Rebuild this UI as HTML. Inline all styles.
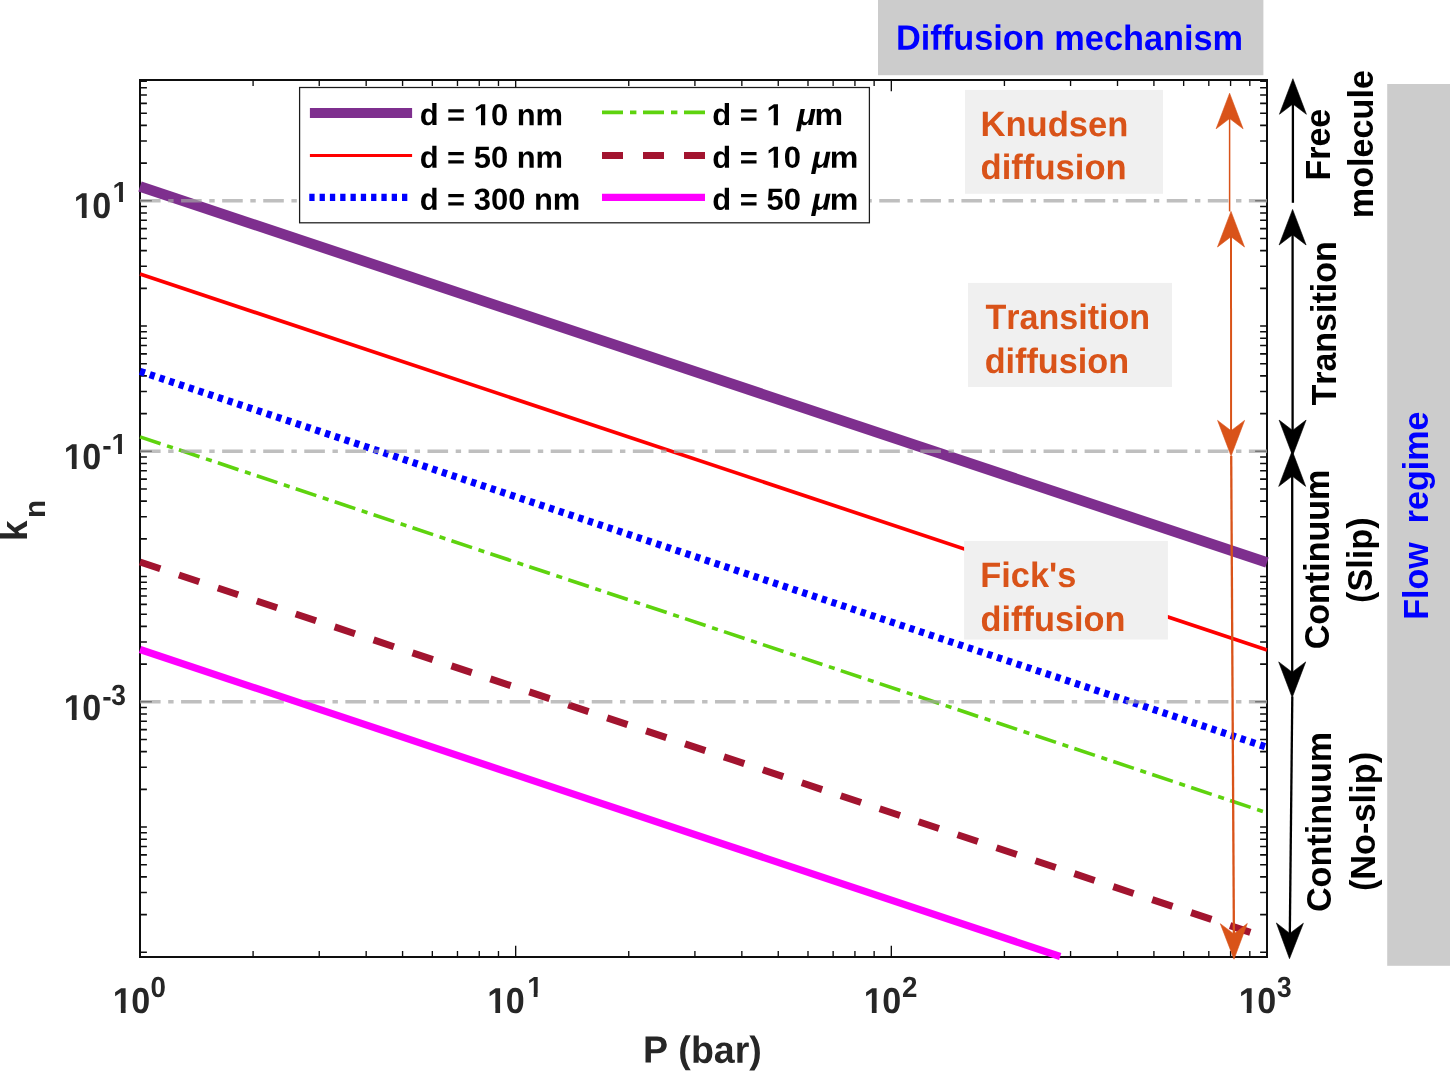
<!DOCTYPE html>
<html><head><meta charset="utf-8"><title>Kn vs P</title>
<style>html,body{margin:0;padding:0;background:#fff;}body{width:1450px;height:1071px;overflow:hidden;}svg{display:block;will-change:transform;}text{font-family:"Liberation Sans",sans-serif;font-weight:bold;font-kerning:none;}</style>
</head><body>
<svg width="1450" height="1071" viewBox="0 0 1450 1071">
<rect x="0" y="0" width="1450" height="1071" fill="#ffffff"/>
<rect x="878" y="0" width="385.4" height="75.2" fill="#cccccc"/>
<rect x="1387.2" y="84" width="63" height="881.8" fill="#cccccc"/>
<clipPath id="ax"><rect x="139" y="80" width="1128.5" height="877"/></clipPath>
<path d="M140.0 952.30h6.9M1267.0 952.30h-6.9M140.0 914.60h6.9M1267.0 914.60h-6.9M140.0 892.54h6.9M1267.0 892.54h-6.9M140.0 876.89h6.9M1267.0 876.89h-6.9M140.0 864.75h6.9M1267.0 864.75h-6.9M140.0 854.84h6.9M1267.0 854.84h-6.9M140.0 846.45h6.9M1267.0 846.45h-6.9M140.0 839.19h6.9M1267.0 839.19h-6.9M140.0 832.78h6.9M1267.0 832.78h-6.9M140.0 827.05h6.9M1267.0 827.05h-6.9M140.0 789.35h6.9M1267.0 789.35h-6.9M140.0 767.29h6.9M1267.0 767.29h-6.9M140.0 751.64h6.9M1267.0 751.64h-6.9M140.0 739.50h6.9M1267.0 739.50h-6.9M140.0 729.59h6.9M1267.0 729.59h-6.9M140.0 721.20h6.9M1267.0 721.20h-6.9M140.0 713.94h6.9M1267.0 713.94h-6.9M140.0 707.53h6.9M1267.0 707.53h-6.9M140.0 701.80h11.9M1267.0 701.80h-11.9M140.0 664.10h6.9M1267.0 664.10h-6.9M140.0 642.04h6.9M1267.0 642.04h-6.9M140.0 626.39h6.9M1267.0 626.39h-6.9M140.0 614.25h6.9M1267.0 614.25h-6.9M140.0 604.34h6.9M1267.0 604.34h-6.9M140.0 595.95h6.9M1267.0 595.95h-6.9M140.0 588.69h6.9M1267.0 588.69h-6.9M140.0 582.28h6.9M1267.0 582.28h-6.9M140.0 576.55h6.9M1267.0 576.55h-6.9M140.0 538.85h6.9M1267.0 538.85h-6.9M140.0 516.79h6.9M1267.0 516.79h-6.9M140.0 501.14h6.9M1267.0 501.14h-6.9M140.0 489.00h6.9M1267.0 489.00h-6.9M140.0 479.09h6.9M1267.0 479.09h-6.9M140.0 470.70h6.9M1267.0 470.70h-6.9M140.0 463.44h6.9M1267.0 463.44h-6.9M140.0 457.03h6.9M1267.0 457.03h-6.9M140.0 451.30h11.9M1267.0 451.30h-11.9M140.0 413.60h6.9M1267.0 413.60h-6.9M140.0 391.54h6.9M1267.0 391.54h-6.9M140.0 375.89h6.9M1267.0 375.89h-6.9M140.0 363.75h6.9M1267.0 363.75h-6.9M140.0 353.84h6.9M1267.0 353.84h-6.9M140.0 345.45h6.9M1267.0 345.45h-6.9M140.0 338.19h6.9M1267.0 338.19h-6.9M140.0 331.78h6.9M1267.0 331.78h-6.9M140.0 326.05h6.9M1267.0 326.05h-6.9M140.0 288.35h6.9M1267.0 288.35h-6.9M140.0 266.29h6.9M1267.0 266.29h-6.9M140.0 250.64h6.9M1267.0 250.64h-6.9M140.0 238.50h6.9M1267.0 238.50h-6.9M140.0 228.59h6.9M1267.0 228.59h-6.9M140.0 220.20h6.9M1267.0 220.20h-6.9M140.0 212.94h6.9M1267.0 212.94h-6.9M140.0 206.53h6.9M1267.0 206.53h-6.9M140.0 200.80h11.9M1267.0 200.80h-11.9M140.0 163.10h6.9M1267.0 163.10h-6.9M140.0 141.04h6.9M1267.0 141.04h-6.9M140.0 125.39h6.9M1267.0 125.39h-6.9M140.0 113.25h6.9M1267.0 113.25h-6.9M140.0 103.34h6.9M1267.0 103.34h-6.9M140.0 94.95h6.9M1267.0 94.95h-6.9M140.0 87.69h6.9M1267.0 87.69h-6.9M140.0 81.28h6.9M1267.0 81.28h-6.9" stroke="#0e0e0e" stroke-width="1.6" fill="none"/>
<path d="M140.00 957.0v-11.2M140.00 80.0v11.2M253.09 957.0v-6.1M253.09 80.0v6.1M319.24 957.0v-6.1M319.24 80.0v6.1M366.17 957.0v-6.1M366.17 80.0v6.1M402.58 957.0v-6.1M402.58 80.0v6.1M432.33 957.0v-6.1M432.33 80.0v6.1M457.48 957.0v-6.1M457.48 80.0v6.1M479.26 957.0v-6.1M479.26 80.0v6.1M498.48 957.0v-6.1M498.48 80.0v6.1M515.67 957.0v-11.2M515.67 80.0v11.2M628.75 957.0v-6.1M628.75 80.0v6.1M694.91 957.0v-6.1M694.91 80.0v6.1M741.84 957.0v-6.1M741.84 80.0v6.1M778.25 957.0v-6.1M778.25 80.0v6.1M807.99 957.0v-6.1M807.99 80.0v6.1M833.14 957.0v-6.1M833.14 80.0v6.1M854.93 957.0v-6.1M854.93 80.0v6.1M874.14 957.0v-6.1M874.14 80.0v6.1M891.33 957.0v-11.2M891.33 80.0v11.2M1004.42 957.0v-6.1M1004.42 80.0v6.1M1070.57 957.0v-6.1M1070.57 80.0v6.1M1117.51 957.0v-6.1M1117.51 80.0v6.1M1153.91 957.0v-6.1M1153.91 80.0v6.1M1183.66 957.0v-6.1M1183.66 80.0v6.1M1208.81 957.0v-6.1M1208.81 80.0v6.1M1230.59 957.0v-6.1M1230.59 80.0v6.1M1249.81 957.0v-6.1M1249.81 80.0v6.1M1267.00 957.0v-11.2M1267.00 80.0v11.2" stroke="#0e0e0e" stroke-width="1.35" fill="none"/>
<rect x="140.0" y="80.0" width="1127.00" height="877.00" fill="none" stroke="#0e0e0e" stroke-width="2"/>
<g fill="none">
<line x1="140.0" y1="186.50" x2="1267.0" y2="562.45" stroke="#7e2f8e" stroke-width="10.5"/>
<line x1="140.0" y1="273.99" x2="1267.0" y2="649.94" stroke="#ff0000" stroke-width="3.7"/>
<line x1="140.0" y1="371.39" x2="1267.0" y2="747.34" stroke="#0000ff" stroke-width="7.2" stroke-dasharray="5.2 5.067"/>
<line x1="140.0" y1="436.84" x2="1267.0" y2="812.79" stroke="#5ed30e" stroke-width="3.6" stroke-dasharray="21.7 6.8 6.1 6.44"/>
<line x1="140.0" y1="562.01" x2="1267.0" y2="937.96" stroke="#a2142f" stroke-width="7" stroke-dasharray="21.4 19.64"/>
</g>
<g clip-path="url(#ax)" fill="none">
<line x1="140.0" y1="200.80" x2="1267.0" y2="200.80" stroke="#a4a4a4" stroke-opacity="0.7" stroke-width="3.4" stroke-dasharray="20.6 7.6 5.4 7.47"/>
<line x1="140.0" y1="451.30" x2="1267.0" y2="451.30" stroke="#a4a4a4" stroke-opacity="0.7" stroke-width="3.4" stroke-dasharray="20.6 7.6 5.4 7.47"/>
<line x1="140.0" y1="701.80" x2="1267.0" y2="701.80" stroke="#a4a4a4" stroke-opacity="0.7" stroke-width="3.4" stroke-dasharray="20.6 7.6 5.4 7.47"/>
</g>
<clipPath id="axm"><rect x="139" y="80" width="1128.5" height="885"/></clipPath>
<line x1="140.0" y1="649.50" x2="1060.2" y2="956.46" stroke="#ff00ff" stroke-width="7.2"/>
<rect x="965" y="89.9" width="198" height="103.9" fill="#f0f0f0"/>
<rect x="968" y="282.9" width="204" height="104.1" fill="#f0f0f0"/>
<rect x="964.1" y="540.9" width="203.8" height="98.6" fill="#f0f0f0"/>
<clipPath id="c1"><rect x="-5" y="-60" width="60" height="55.726"/><rect x="8.402" y="-4.474" width="4.939" height="4.674"/></clipPath>
<clipPath id="c1s"><rect x="-5" y="-60" width="60" height="56.420"/><rect x="6.815" y="-3.780" width="4.006" height="3.980"/></clipPath>
<text transform="translate(112.77,1013.00) rotate(0.03) scale(0.962,1)" font-size="36.0" fill="#262626" clip-path="url(#c1)">1</text>
<text transform="translate(131.25,1013.00) rotate(0.03) scale(0.945,1)" font-size="36.0" fill="#262626">0</text>
<text transform="translate(150.40,997.00) rotate(0.03) scale(0.95,1)" font-size="29.2" fill="#262626">0</text>
<text transform="translate(487.27,1013.00) rotate(0.03) scale(0.962,1)" font-size="36.0" fill="#262626" clip-path="url(#c1)">1</text>
<text transform="translate(505.75,1013.00) rotate(0.03) scale(0.945,1)" font-size="36.0" fill="#262626">0</text>
<text transform="translate(527.14,997.00) rotate(0.03) scale(0.962,1)" font-size="29.2" fill="#262626" clip-path="url(#c1s)">1</text>
<text transform="translate(863.77,1013.00) rotate(0.03) scale(0.962,1)" font-size="36.0" fill="#262626" clip-path="url(#c1)">1</text>
<text transform="translate(882.25,1013.00) rotate(0.03) scale(0.945,1)" font-size="36.0" fill="#262626">0</text>
<text transform="translate(901.94,997.00) rotate(0.03) scale(0.95,1)" font-size="29.2" fill="#262626">2</text>
<text transform="translate(1238.67,1013.00) rotate(0.03) scale(0.962,1)" font-size="36.0" fill="#262626" clip-path="url(#c1)">1</text>
<text transform="translate(1257.15,1013.00) rotate(0.03) scale(0.945,1)" font-size="36.0" fill="#262626">0</text>
<text transform="translate(1277.10,997.00) rotate(0.03) scale(0.9,1)" font-size="29.2" fill="#262626">3</text>
<text transform="translate(73.77,218.10) rotate(0.03) scale(0.962,1)" font-size="36.0" fill="#262626" clip-path="url(#c1)">1</text>
<text transform="translate(92.25,218.10) rotate(0.03) scale(0.945,1)" font-size="36.0" fill="#262626">0</text>
<text transform="translate(112.54,202.00) rotate(0.03) scale(0.962,1)" font-size="29.2" fill="#262626" clip-path="url(#c1s)">1</text>
<text transform="translate(63.77,469.00) rotate(0.03) scale(0.962,1)" font-size="36.0" fill="#262626" clip-path="url(#c1)">1</text>
<text transform="translate(82.25,469.00) rotate(0.03) scale(0.945,1)" font-size="36.0" fill="#262626">0</text>
<text transform="translate(102.20,455.20) rotate(0.03) scale(0.962,1)" font-size="29.2" fill="#262626">-</text>
<text transform="translate(111.54,454.00) rotate(0.03) scale(0.962,1)" font-size="29.2" fill="#262626" clip-path="url(#c1s)">1</text>
<text transform="translate(63.77,720.00) rotate(0.03) scale(0.962,1)" font-size="36.0" fill="#262626" clip-path="url(#c1)">1</text>
<text transform="translate(82.25,720.00) rotate(0.03) scale(0.945,1)" font-size="36.0" fill="#262626">0</text>
<text transform="translate(102.20,706.20) rotate(0.03) scale(0.962,1)" font-size="29.2" fill="#262626">-</text>
<text transform="translate(111.20,705.00) rotate(0.03) scale(0.9,1)" font-size="29.2" fill="#262626">3</text>
<text transform="translate(642.89,1062.60) rotate(0.03) scale(0.9939,1)" font-size="37.8" fill="#262626" xml:space="preserve">P (bar)</text>
<text transform="translate(27.0,541.1) rotate(-90)" font-size="36.9" fill="#262626">k</text>
<text transform="translate(45.0,517.9) rotate(-90)" font-size="29.8" fill="#262626">n</text>
<rect x="299.6" y="87.5" width="569.8" height="135.3" fill="#ffffff" stroke="#1c1c1c" stroke-width="1.25"/>
<line x1="309.9" y1="113.0" x2="412.1" y2="113.0" stroke="#7e2f8e" stroke-width="10"/>
<line x1="309.9" y1="155.5" x2="412.1" y2="155.5" stroke="#ff0000" stroke-width="3"/>
<line x1="309.3" y1="197.4" x2="408" y2="197.4" stroke="#0000ff" stroke-width="7.2" stroke-dasharray="5.3 5"/>
<line x1="602" y1="112.4" x2="705" y2="112.4" stroke="#5ed30e" stroke-width="3.8" stroke-dasharray="21 7 6.4 6.6"/>
<line x1="602" y1="155.5" x2="705" y2="155.5" stroke="#a2142f" stroke-width="7" stroke-dasharray="21 20"/>
<line x1="602" y1="197.4" x2="705" y2="197.4" stroke="#ff00ff" stroke-width="7.4"/>
<clipPath id="fc1"><path clip-rule="evenodd" d="M-20 -80H161.5V40H-20ZM53.99 -3.71H60.51V2H53.99ZM64.69 -3.71H70.31V2H64.69Z"/></clipPath>
<text transform="translate(419.63,125.10) rotate(0.03) scale(1.0138,1)" font-size="30.5" fill="#000" xml:space="preserve" clip-path="url(#fc1)">d = 10 nm</text>
<text transform="translate(419.63,167.70) rotate(0.03) scale(1.0138,1)" font-size="30.5" fill="#000" xml:space="preserve">d = 50 nm</text>
<text transform="translate(419.63,209.70) rotate(0.03) scale(1.0138,1)" font-size="30.5" fill="#000" xml:space="preserve">d = 300 nm</text>
<clipPath id="fc2"><path clip-rule="evenodd" d="M-20 -80H90.4V40H-20ZM53.99 -3.71H60.51V2H53.99ZM64.69 -3.71H70.31V2H64.69Z"/></clipPath>
<text transform="translate(712.33,125.10) rotate(0.03) scale(1.014,1)" font-size="30.5" fill="#000" xml:space="preserve" clip-path="url(#fc2)">d = 1</text>
<text transform="translate(796.70,125.10) rotate(0.03) scale(1.04,1)" font-size="30.5" fill="#000" font-style="italic">&#956;</text>
<text transform="translate(814.38,125.10) rotate(0.03) scale(1.0552,1)" font-size="30.5" fill="#000" xml:space="preserve">m</text>
<clipPath id="fc3"><path clip-rule="evenodd" d="M-20 -80H107.3V40H-20ZM53.99 -3.71H60.51V2H53.99ZM64.69 -3.71H70.31V2H64.69Z"/></clipPath>
<text transform="translate(712.33,167.70) rotate(0.03) scale(1.014,1)" font-size="30.5" fill="#000" xml:space="preserve" clip-path="url(#fc3)">d = 10</text>
<text transform="translate(811.70,167.70) rotate(0.03) scale(1.04,1)" font-size="30.5" fill="#000" font-style="italic">&#956;</text>
<text transform="translate(829.78,167.70) rotate(0.03) scale(1.0552,1)" font-size="30.5" fill="#000" xml:space="preserve">m</text>
<text transform="translate(712.33,209.70) rotate(0.03) scale(1.014,1)" font-size="30.5" fill="#000" xml:space="preserve">d = 50</text>
<text transform="translate(811.70,209.70) rotate(0.03) scale(1.04,1)" font-size="30.5" fill="#000" font-style="italic">&#956;</text>
<text transform="translate(829.78,209.70) rotate(0.03) scale(1.0552,1)" font-size="30.5" fill="#000" xml:space="preserve">m</text>
<text transform="translate(980.48,136.10) rotate(0.03) scale(0.9805,1)" font-size="35.3" fill="#d95319" xml:space="preserve">Knudsen</text>
<text transform="translate(980.58,179.10) rotate(0.03) scale(0.9809,1)" font-size="35.3" fill="#d95319" xml:space="preserve">diffusion</text>
<text transform="translate(985.42,328.90) rotate(0.03) scale(0.9659,1)" font-size="35.3" fill="#d95319" xml:space="preserve">Transition</text>
<text transform="translate(984.70,372.90) rotate(0.03) scale(0.9686,1)" font-size="35.3" fill="#d95319" xml:space="preserve">diffusion</text>
<text transform="translate(980.30,586.90) rotate(0.03) scale(0.9731,1)" font-size="35.3" fill="#d95319" xml:space="preserve">Fick's</text>
<text transform="translate(980.59,630.90) rotate(0.03) scale(0.9727,1)" font-size="35.3" fill="#d95319" xml:space="preserve">diffusion</text>
<text transform="translate(896.00,49.80) rotate(0.03) scale(0.9727,1)" font-size="35.3" fill="#0000ff" xml:space="preserve">Diffusion mechanism</text>
<line x1="1229.6" y1="117.2" x2="1229.6" y2="211.4" stroke="#d95319" stroke-width="1.5"/>
<polygon points="1229.6,93.2 1216.1,128.8 1229.6,118.5 1243.1,128.8" fill="#d95319" stroke="#d95319" stroke-width="0.6" stroke-linejoin="round"/>
<line x1="1231.0" y1="235.4" x2="1231.1" y2="432.0" stroke="#d95319" stroke-width="2.0"/>
<polygon points="1231.0,211.4 1217.5,247.0 1231.0,236.7 1244.5,247.0" fill="#d95319" stroke="#d95319" stroke-width="0.6" stroke-linejoin="round"/>
<g transform="rotate(-0.02 1231.1 456.0)">
<polygon points="1231.1,456.0 1217.6,420.4 1231.1,430.7 1244.6,420.4" fill="#d95319" stroke="#d95319" stroke-width="0.6" stroke-linejoin="round"/>
</g>
<line x1="1231.2" y1="455.9" x2="1233.9" y2="935.2" stroke="#d95319" stroke-width="2.3"/>
<g transform="rotate(-0.32 1234.0 959.2)">
<polygon points="1234.0,959.2 1220.5,923.6 1234.0,933.9 1247.5,923.6" fill="#d95319" stroke="#d95319" stroke-width="0.6" stroke-linejoin="round"/>
</g>
<line x1="1292.9" y1="102.7" x2="1292.9" y2="202.8" stroke="#000000" stroke-width="2.3"/>
<polygon points="1292.9,78.7 1279.4,114.3 1292.9,104.0 1306.4,114.3" fill="#000000" stroke="#000000" stroke-width="0.6" stroke-linejoin="round"/>
<line x1="1292.6" y1="233.4" x2="1292.6" y2="431.7" stroke="#000000" stroke-width="2.3"/>
<polygon points="1292.6,209.4 1279.1,245.0 1292.6,234.7 1306.1,245.0" fill="#000000" stroke="#000000" stroke-width="0.6" stroke-linejoin="round"/>
<g transform="rotate(-0.00 1292.6 455.7)">
<polygon points="1292.6,455.7 1279.1,420.1 1292.6,430.4 1306.1,420.1" fill="#000000" stroke="#000000" stroke-width="0.6" stroke-linejoin="round"/>
</g>
<line x1="1292.2" y1="474.8" x2="1292.2" y2="673.5" stroke="#000000" stroke-width="2.3"/>
<polygon points="1292.2,450.8 1278.7,486.4 1292.2,476.1 1305.7,486.4" fill="#000000" stroke="#000000" stroke-width="0.6" stroke-linejoin="round"/>
<g transform="rotate(-0.00 1292.2 697.5)">
<polygon points="1292.2,697.5 1278.7,661.9 1292.2,672.2 1305.7,661.9" fill="#000000" stroke="#000000" stroke-width="0.6" stroke-linejoin="round"/>
</g>
<line x1="1292.3" y1="696.5" x2="1289.8" y2="934.7" stroke="#000000" stroke-width="2.3"/>
<g transform="rotate(0.61 1289.5 958.7)">
<polygon points="1289.5,958.7 1276.0,923.1 1289.5,933.4 1303.0,923.1" fill="#000000" stroke="#000000" stroke-width="0.6" stroke-linejoin="round"/>
</g>
<text transform="translate(1330.00,180.52) rotate(-90) scale(0.9696,1)" font-size="35.0" fill="#000" xml:space="preserve">Free</text>
<text transform="translate(1373.10,218.15) rotate(-90) scale(0.9769,1)" font-size="35.0" fill="#000" xml:space="preserve">molecule</text>
<text transform="translate(1335.60,405.58) rotate(-90) scale(0.9717,1)" font-size="35.0" fill="#000" xml:space="preserve">Transition</text>
<text transform="translate(1328.70,649.30) rotate(-90) scale(0.9731,1)" font-size="35.0" fill="#000" xml:space="preserve">Continuum</text>
<text transform="translate(1372.00,603.01) rotate(-90) scale(0.9786,1)" font-size="35.0" fill="#000" xml:space="preserve">(Slip)</text>
<text transform="translate(1331.00,912.10) rotate(-90) scale(0.9759,1)" font-size="35.0" fill="#000" xml:space="preserve">Continuum</text>
<text transform="translate(1374.50,891.11) rotate(-90) scale(0.9810,1)" font-size="35.0" fill="#000" xml:space="preserve">(No-slip)</text>
<text transform="translate(1428.10,619.68) rotate(-90) scale(0.9734,1)" font-size="35.0" fill="#0000ff" xml:space="preserve">Flow  regime</text>
</svg></body></html>
